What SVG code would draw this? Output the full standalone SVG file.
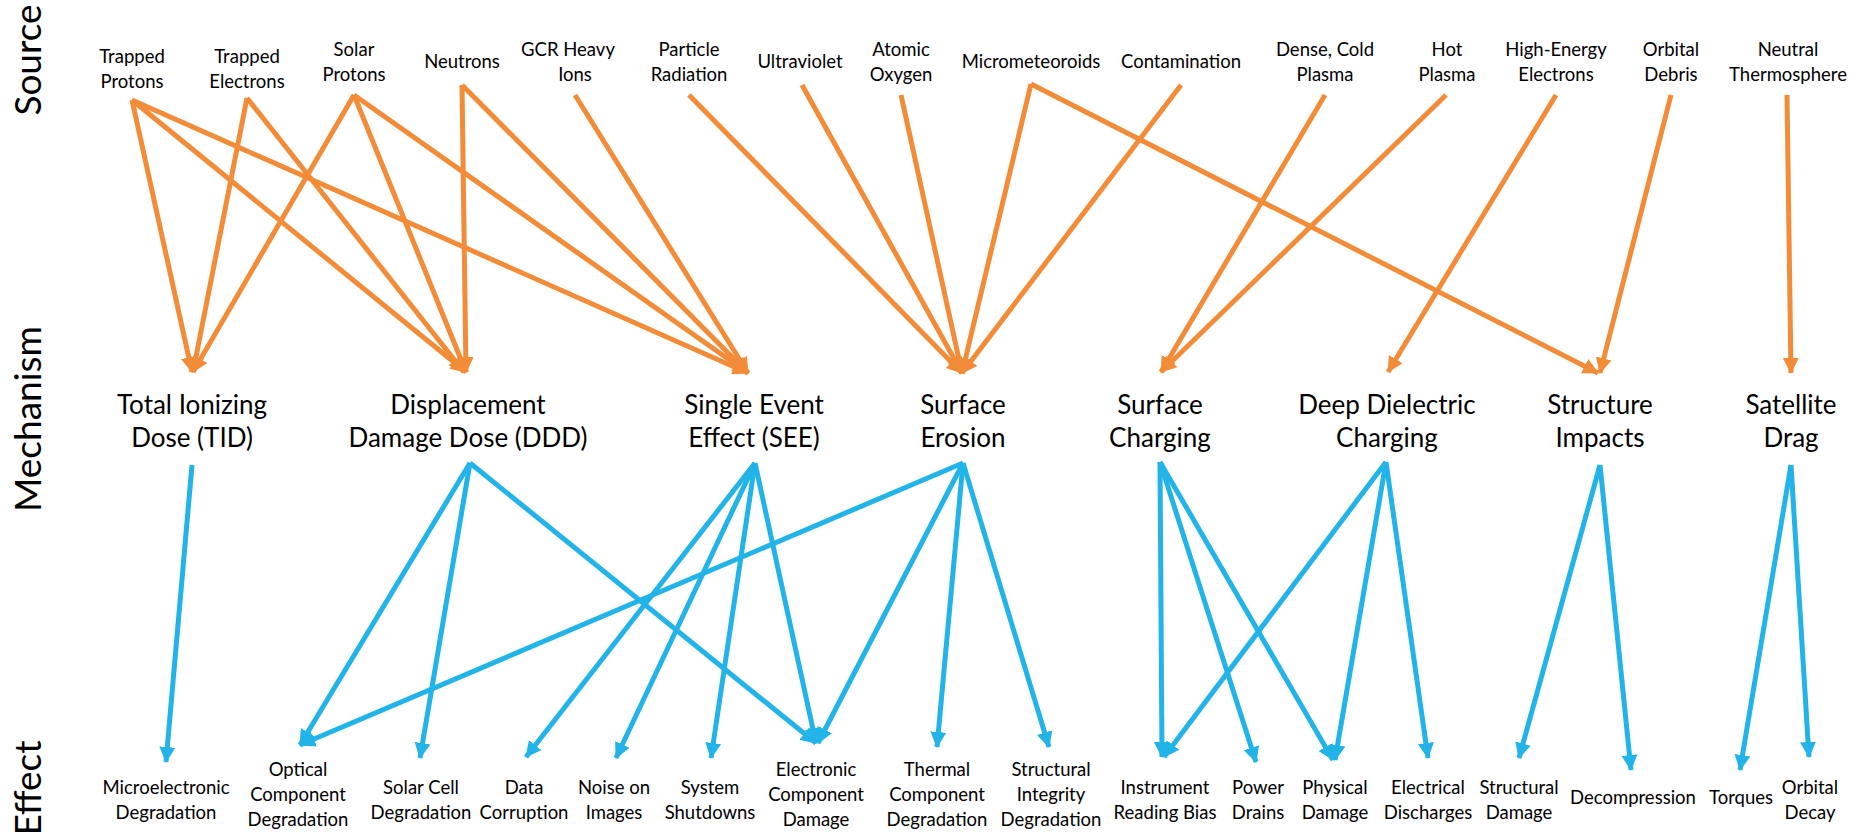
<svg xmlns="http://www.w3.org/2000/svg" width="1866" height="835" viewBox="0 0 1866 835">
<defs>
<style>
text{font-family:Lato,"Liberation Sans",sans-serif;fill:#000;text-anchor:middle}
.src{font-size:18.5px}
.mech{font-size:26px}
.eff{font-size:18.5px}
.row{font-size:37px}
.o{stroke:#F28C38;stroke-width:5;fill:none;marker-end:url(#ao)}
.b{stroke:#22B4E8;stroke-width:5;fill:none;marker-end:url(#ab)}
</style>
<marker id="ao" markerUnits="userSpaceOnUse" markerWidth="18" markerHeight="18" refX="15" refY="9" orient="auto"><path d="M0,1 L16,9 L0,17 z" fill="#F28C38"/></marker>
<marker id="ab" markerUnits="userSpaceOnUse" markerWidth="18" markerHeight="18" refX="15" refY="9" orient="auto"><path d="M0,1 L16,9 L0,17 z" fill="#22B4E8"/></marker>
</defs>
<rect width="1866" height="835" fill="#fff"/>
<g id="rows">
<text class="row" transform="translate(41,60) rotate(-90)">Source</text>
<text class="row" transform="translate(41,419) rotate(-90)">Mechanism</text>
<text class="row" transform="translate(41,788) rotate(-90)">Effect</text>
</g>
<g id="connectors">
<line class="o" x1="132" y1="100" x2="192" y2="372"/>
<line class="o" x1="132" y1="100" x2="466" y2="372"/>
<line class="o" x1="132" y1="100" x2="748" y2="373"/>
<line class="o" x1="247" y1="98" x2="193" y2="372"/>
<line class="o" x1="247" y1="98" x2="464" y2="372"/>
<line class="o" x1="354" y1="95" x2="193" y2="372"/>
<line class="o" x1="354" y1="95" x2="466" y2="372"/>
<line class="o" x1="354" y1="95" x2="748" y2="373"/>
<line class="o" x1="462" y1="85" x2="466" y2="372"/>
<line class="o" x1="462" y1="85" x2="748" y2="373"/>
<line class="o" x1="575" y1="95" x2="748" y2="373"/>
<line class="o" x1="689" y1="95" x2="962" y2="373"/>
<line class="o" x1="802" y1="85" x2="962" y2="373"/>
<line class="o" x1="901" y1="95" x2="962" y2="373"/>
<line class="o" x1="1031" y1="84" x2="962" y2="373"/>
<line class="o" x1="1031" y1="84" x2="1598" y2="373"/>
<line class="o" x1="1181" y1="85" x2="962" y2="373"/>
<line class="o" x1="1325" y1="95" x2="1161" y2="372"/>
<line class="o" x1="1446" y1="95" x2="1161" y2="372"/>
<line class="o" x1="1556" y1="95" x2="1388" y2="372"/>
<line class="o" x1="1671" y1="95" x2="1600" y2="373"/>
<line class="o" x1="1787" y1="95" x2="1791" y2="373"/>
<line class="b" x1="192" y1="465" x2="166" y2="762"/>
<line class="b" x1="470" y1="463" x2="300" y2="745"/>
<line class="b" x1="470" y1="463" x2="420" y2="758"/>
<line class="b" x1="470" y1="463" x2="816" y2="743"/>
<line class="b" x1="755" y1="463" x2="526" y2="757"/>
<line class="b" x1="755" y1="463" x2="616" y2="758"/>
<line class="b" x1="755" y1="463" x2="711" y2="758"/>
<line class="b" x1="755" y1="463" x2="816" y2="743"/>
<line class="b" x1="963" y1="463" x2="300" y2="745"/>
<line class="b" x1="963" y1="463" x2="818" y2="743"/>
<line class="b" x1="963" y1="463" x2="937" y2="747"/>
<line class="b" x1="963" y1="463" x2="1049" y2="747"/>
<line class="b" x1="1160" y1="462" x2="1162" y2="757"/>
<line class="b" x1="1160" y1="462" x2="1256" y2="762"/>
<line class="b" x1="1160" y1="462" x2="1333" y2="760"/>
<line class="b" x1="1386" y1="462" x2="1164" y2="757"/>
<line class="b" x1="1386" y1="462" x2="1335" y2="760"/>
<line class="b" x1="1386" y1="462" x2="1428" y2="758"/>
<line class="b" x1="1600" y1="465" x2="1519" y2="758"/>
<line class="b" x1="1600" y1="465" x2="1631" y2="770"/>
<line class="b" x1="1791" y1="465" x2="1740" y2="770"/>
<line class="b" x1="1791" y1="465" x2="1809" y2="757"/>
</g>
<g id="src-trapped-protons"><text class="src" x="132" y="63">Trapped</text><text class="src" x="132" y="88">Protons</text></g>
<g id="src-trapped-electrons"><text class="src" x="247" y="63">Trapped</text><text class="src" x="247" y="88">Electrons</text></g>
<g id="src-solar-protons"><text class="src" x="354" y="56">Solar</text><text class="src" x="354" y="81">Protons</text></g>
<g id="src-neutrons"><text class="src" x="462" y="68">Neutrons</text></g>
<g id="src-gcr"><text class="src" x="568" y="56">GCR Heavy</text><text class="src" x="575" y="81">Ions</text></g>
<g id="src-particle"><text class="src" x="689" y="56">Particle</text><text class="src" x="689" y="81">Radiation</text></g>
<g id="src-uv"><text class="src" x="800" y="68">Ultraviolet</text></g>
<g id="src-ao"><text class="src" x="901" y="56">Atomic</text><text class="src" x="901" y="81">Oxygen</text></g>
<g id="src-mm"><text class="src" x="1031" y="68">Micrometeoroids</text></g>
<g id="src-cont"><text class="src" x="1181" y="68">Contamination</text></g>
<g id="src-dcp"><text class="src" x="1325" y="56">Dense, Cold</text><text class="src" x="1325" y="81">Plasma</text></g>
<g id="src-hp"><text class="src" x="1447" y="56">Hot</text><text class="src" x="1447" y="81">Plasma</text></g>
<g id="src-hee"><text class="src" x="1556" y="56">High-Energy</text><text class="src" x="1556" y="81">Electrons</text></g>
<g id="src-od"><text class="src" x="1671" y="56">Orbital</text><text class="src" x="1671" y="81">Debris</text></g>
<g id="src-nt"><text class="src" x="1788" y="56">Neutral</text><text class="src" x="1788" y="81">Thermosphere</text></g>
<g id="mech-tid"><text class="mech" x="192" y="414">Total Ionizing</text><text class="mech" x="192" y="447">Dose (TID)</text></g>
<g id="mech-ddd"><text class="mech" x="468" y="414">Displacement</text><text class="mech" x="468" y="447">Damage Dose (DDD)</text></g>
<g id="mech-see"><text class="mech" x="754" y="414">Single Event</text><text class="mech" x="754" y="447">Effect (SEE)</text></g>
<g id="mech-se"><text class="mech" x="963" y="414">Surface</text><text class="mech" x="963" y="447">Erosion</text></g>
<g id="mech-sc"><text class="mech" x="1160" y="414">Surface</text><text class="mech" x="1160" y="447">Charging</text></g>
<g id="mech-dd"><text class="mech" x="1387" y="414">Deep Dielectric</text><text class="mech" x="1387" y="447">Charging</text></g>
<g id="mech-si"><text class="mech" x="1600" y="414">Structure</text><text class="mech" x="1600" y="447">Impacts</text></g>
<g id="mech-sd"><text class="mech" x="1791" y="414">Satellite</text><text class="mech" x="1791" y="447">Drag</text></g>
<g id="eff-micro"><text class="eff" x="166" y="794">Microelectronic</text><text class="eff" x="166" y="819">Degradation</text></g>
<g id="eff-optical"><text class="eff" x="298" y="776">Optical</text><text class="eff" x="298" y="801">Component</text><text class="eff" x="298" y="826">Degradation</text></g>
<g id="eff-solar"><text class="eff" x="421" y="794">Solar Cell</text><text class="eff" x="421" y="819">Degradation</text></g>
<g id="eff-data"><text class="eff" x="524" y="794">Data</text><text class="eff" x="524" y="819">Corruption</text></g>
<g id="eff-noise"><text class="eff" x="614" y="794">Noise on</text><text class="eff" x="614" y="819">Images</text></g>
<g id="eff-sys"><text class="eff" x="710" y="794">System</text><text class="eff" x="710" y="819">Shutdowns</text></g>
<g id="eff-ecd"><text class="eff" x="816" y="776">Electronic</text><text class="eff" x="816" y="801">Component</text><text class="eff" x="816" y="826">Damage</text></g>
<g id="eff-thermal"><text class="eff" x="937" y="776">Thermal</text><text class="eff" x="937" y="801">Component</text><text class="eff" x="937" y="826">Degradation</text></g>
<g id="eff-struct-int"><text class="eff" x="1051" y="776">Structural</text><text class="eff" x="1051" y="801">Integrity</text><text class="eff" x="1051" y="826">Degradation</text></g>
<g id="eff-irb"><text class="eff" x="1165" y="794">Instrument</text><text class="eff" x="1165" y="819">Reading Bias</text></g>
<g id="eff-power"><text class="eff" x="1258" y="794">Power</text><text class="eff" x="1258" y="819">Drains</text></g>
<g id="eff-physical"><text class="eff" x="1335" y="794">Physical</text><text class="eff" x="1335" y="819">Damage</text></g>
<g id="eff-electrical"><text class="eff" x="1428" y="794">Electrical</text><text class="eff" x="1428" y="819">Discharges</text></g>
<g id="eff-struct-dmg"><text class="eff" x="1519" y="794">Structural</text><text class="eff" x="1519" y="819">Damage</text></g>
<g id="eff-decomp"><text class="eff" x="1633" y="804">Decompression</text></g>
<g id="eff-torques"><text class="eff" x="1741" y="804">Torques</text></g>
<g id="eff-orbital"><text class="eff" x="1810" y="794">Orbital</text><text class="eff" x="1810" y="819">Decay</text></g>
</svg>
